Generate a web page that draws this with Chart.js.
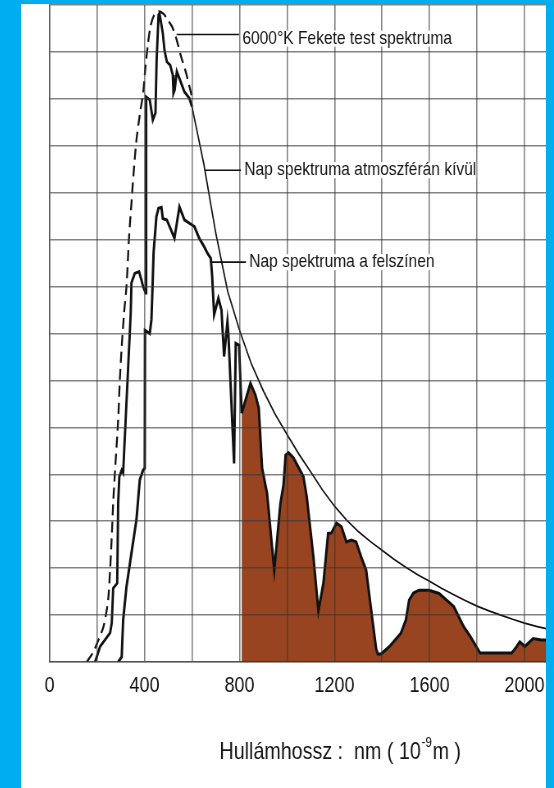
<!DOCTYPE html>
<html>
<head>
<meta charset="utf-8">
<script src="https://cdn.jsdelivr.net/npm/chart.js@4.4.1/dist/chart.umd.min.js"></script>
<style>
  html, body { margin: 0; padding: 0; background: #00aeef; }
  body { width: 554px; height: 788px; position: relative; overflow: hidden; }
  #panel { position: absolute; left: 21px; top: 4px; width: 525px; height: 784px; background: #fff; overflow: hidden; }
  /* the original artwork is horizontally squeezed, so is this one */
  #panel canvas { position: absolute; left: 0; top: 0; transform: scaleX(0.82); transform-origin: 0 0; }
</style>
</head>
<body>
<div id="panel"><canvas id="spectrum" width="683" height="784"></canvas></div>
<script>
// wavelengths in nm, intensity in grid units (no y labels on the original)
const blackbodyNm = [157, 185, 206, 227, 241, 248, 255, 262, 268, 276, 289, 296, 304, 314, 324, 335, 345, 355, 366, 377, 383, 394, 404, 415, 425, 438, 459, 480, 498, 516, 533, 554, 575, 596, 603];
const blackbodyVal = [0, 0.22, 0.47, 0.75, 1.11, 1.39, 1.96, 2.67, 3.39, 4.09, 5.16, 6.01, 6.72, 7.44, 8.0, 9.06, 9.78, 10.48, 11.12, 11.55, 11.76, 12.12, 12.68, 13.19, 13.54, 13.76, 13.86, 13.81, 13.68, 13.54, 13.30, 12.90, 12.55, 12.12, 11.98];

const outerNm = [192, 213, 255, 262, 268, 285, 289, 294, 304, 310, 342, 345, 359, 377, 387, 394, 405, 407, 422, 435, 446, 451, 459, 463, 477, 484, 494, 508, 519, 522, 527, 536, 554, 568, 589, 600,
  650, 700, 750, 800, 850, 900, 950, 1000, 1050, 1100, 1150, 1200, 1250, 1300, 1350, 1400, 1450, 1500, 1550, 1600, 1650, 1700, 1750, 1800, 1850, 1900, 1950, 2000, 2050, 2100];
const outerVal = [0, 0.33, 0.62, 0.83, 1.57, 1.68, 3.39, 3.95, 4.09, 4.03, 7.44, 8.08, 8.28, 8.32, 8.14, 8.0, 7.86, 12.04, 11.98, 11.55, 11.7, 12.83, 13.79, 13.82, 13.4, 13.04, 12.79, 12.72, 12.51, 12.12, 12.19, 12.58, 12.34, 12.15, 12.01, 11.83,
  10.6, 9.14, 7.9, 7.07, 6.35, 5.78, 5.28, 4.85, 4.43, 4.05, 3.66, 3.32, 3.03, 2.78, 2.57, 2.38, 2.19, 2.02, 1.86, 1.72, 1.57, 1.44, 1.31, 1.19, 1.09, 1.0, 0.91, 0.83, 0.76, 0.7];

const surfaceNm = [289, 304, 310, 324, 345, 366, 380, 394, 401, 402, 422, 429, 434, 438, 450, 459, 471, 477, 494, 526, 547, 568, 589, 610, 630, 651, 665, 679, 685, 693, 711, 724, 735, 749, 753, 777, 784, 798,
  809, 846, 867, 881, 895, 916, 946, 956, 972, 985, 994, 1006, 1027, 1069, 1083, 1111, 1132, 1153, 1173, 1187, 1208, 1229, 1250, 1271, 1291, 1312, 1333, 1340, 1375, 1382, 1396, 1431, 1479, 1500, 1514, 1532, 1556, 1598, 1640, 1702, 1744, 1772, 1813, 1946, 1967, 1980, 2001, 2036, 2071, 2100];
const surfaceVal = [0, 0.11, 0.89, 1.6, 2.32, 3.03, 3.88, 4.09, 4.13, 7.07, 7.0, 7.29, 8.03, 8.72, 9.49, 9.67, 9.69, 9.45, 9.42, 9.03, 9.7, 9.42, 9.35, 9.28, 9.03, 8.85, 8.71, 8.6, 8.2, 7.4, 7.75, 7.5, 6.51, 7.25, 7.0, 4.23, 6.79, 6.75,
  5.3, 5.94, 5.69, 5.41, 4.13, 3.59, 1.96, 2.49, 3.38, 3.77, 4.41, 4.46, 4.35, 3.95, 3.52, 2.24, 1.09, 1.68, 2.74, 2.75, 2.96, 2.88, 2.56, 2.6, 2.56, 2.24, 1.96, 1.68, 0.29, 0.17, 0.17, 0.33, 0.61, 0.89, 1.32, 1.47, 1.53, 1.53, 1.46, 1.18, 0.75, 0.54, 0.19, 0.19, 0.33, 0.43, 0.33, 0.5, 0.47, 0.47];

const xTickLabels = [0, 400, 800, 1200, 1600, 2000];
const seriesNames = ['6000°K Fekete test spektruma', 'Nap spektruma atmoszférán kívül', 'Nap spektruma a felszínen'];
const axisTitle = ['Hullámhossz :  nm ( 10', '-9', 'm )'];

const SQUEEZE = 0.82;
const FONT = "'Liberation Sans', Arial, sans-serif";
const BROWN = '#984421';
const GRID = 'rgba(55, 55, 55, 0.62)';

// callouts: leader starts on the curve, text sits right of the leader
const callouts = [
  { text: seriesNames[0], from: [535, 13.37], to: 798, dy: 4 },
  { text: seriesNames[1], from: [652, 10.48], to: 806, dy: 0 },
  { text: seriesNames[2], from: [681, 8.52], to: 827, dy: 0 },
];

const toPoints = (xs, ys) => xs.map((x, i) => ({ x, y: ys[i] }));

const calloutPlugin = {
  id: 'callouts',
  afterDraw(chart) {
    const { ctx, scales: { x, y } } = chart;
    ctx.save();
    ctx.font = '19px ' + FONT;
    ctx.textBaseline = 'middle';
    callouts.forEach(c => {
      const x0 = x.getPixelForValue(c.from[0]);
      const y0 = y.getPixelForValue(c.from[1]);
      const x1 = x.getPixelForValue(c.to);
      const w = ctx.measureText(c.text).width;
      ctx.fillStyle = '#fff';
      ctx.fillRect(x1 + 2, y0 + c.dy - 8, w + 2, 16);
      ctx.strokeStyle = '#111';
      ctx.lineWidth = 1.6;
      ctx.beginPath();
      ctx.moveTo(x0, y0);
      ctx.lineTo(x1, y0);
      ctx.stroke();
      ctx.fillStyle = '#151515';
      ctx.fillText(c.text, x1 + 4, y0 + c.dy);
    });

    // axis caption with superscript exponent
    const area = chart.chartArea;
    let tx = area.left + 170 / SQUEEZE;
    const ty = area.bottom + 90;
    ctx.fillStyle = '#151515';
    ctx.font = '24px ' + FONT;
    ctx.fillText(axisTitle[0], tx, ty);
    tx += ctx.measureText(axisTitle[0]).width + 1;
    ctx.font = '14px ' + FONT;
    ctx.fillText(axisTitle[1], tx, ty - 9);
    tx += ctx.measureText(axisTitle[1]).width + 1;
    ctx.font = '24px ' + FONT;
    ctx.fillText(axisTitle[2], tx, ty);
    ctx.restore();
  }
};

new Chart(document.getElementById('spectrum'), {
  type: 'line',
  data: {
    datasets: [
      {
        label: seriesNames[0],
        data: toPoints(blackbodyNm, blackbodyVal),
        borderColor: '#111',
        borderWidth: 2.3,
        borderDash: [11, 6],
        tension: 0.3,
        pointRadius: 0,
        fill: false,
      },
      {
        label: seriesNames[1],
        data: toPoints(outerNm, outerVal),
        borderColor: '#111',
        borderWidth: 2.9,
        tension: 0,
        pointRadius: 0,
        fill: false,
        segment: {
          borderWidth: ctx => ctx.p0.parsed.x >= 600 ? 1.7 : 2.9,
        },
      },
      {
        label: seriesNames[2],
        data: toPoints(surfaceNm, surfaceVal),
        borderColor: '#111',
        borderWidth: 3,
        tension: 0,
        pointRadius: 0,
        fill: 'origin',
        backgroundColor: BROWN,
        segment: {
          // infrared part shaded brown
          backgroundColor: ctx => ctx.p0.parsed.x >= 805 ? BROWN : 'rgba(0,0,0,0)',
        },
      },
    ],
  },
  options: {
    responsive: false,
    animation: false,
    layout: { padding: { left: 28.5 / SQUEEZE, right: 5.9, top: 1, bottom: 0 } },
    plugins: {
      legend: { display: false },
      tooltip: { enabled: false },
    },
    scales: {
      x: {
        type: 'linear',
        min: 0,
        max: 2200,
        afterFit: scale => { scale.height = 126; },
        grid: { color: GRID, lineWidth: 1.6, drawTicks: false, z: 1 },
        border: { color: GRID, width: 1.6, z: 1 },
        ticks: {
          stepSize: 200,
          autoSkip: false,
          maxRotation: 0,
          padding: 11,
          color: '#111',
          font: { family: FONT, size: 22 },
          callback: v => xTickLabels.includes(v) ? String(v) : '',
        },
      },
      y: {
        min: 0,
        max: 14,
        afterFit: scale => { scale.width = 0; },
        grid: { color: GRID, lineWidth: 1.5, drawTicks: false, z: 1 },
        border: { color: GRID, width: 1.6, z: 1 },
        ticks: { stepSize: 1, display: false },
      },
    },
  },
  plugins: [calloutPlugin],
});
</script>
</body>
</html>
